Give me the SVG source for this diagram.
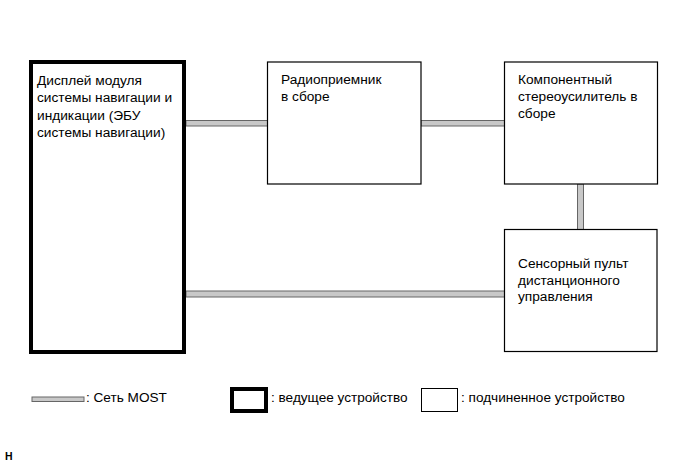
<svg xmlns="http://www.w3.org/2000/svg" width="691" height="465" viewBox="0 0 691 465">
<style>
.t{font-family:"Liberation Sans",Arial,sans-serif;font-size:13.7px;fill:#000}
.lt{font-family:"Liberation Sans",Arial,sans-serif;font-size:13.6px;fill:#000}
.box{fill:#fff;stroke:#000;stroke-width:1.2}
.master{fill:#fff;stroke:#000;stroke-width:4}
.most{fill:#c8c8c8;stroke:#666;stroke-width:1}
</style>
<rect width="691" height="465" fill="#fff"/>
<g id="connectors">
<rect class="most" x="186" y="120.5" width="81.5" height="5.5"/>
<rect class="most" x="421" y="120.5" width="83.5" height="5.5"/>
<rect class="most" x="577.5" y="184" width="6" height="45.5"/>
<rect class="most" x="186" y="291" width="318.5" height="6"/>
</g>
<g id="nav-display">
<rect class="master" x="31" y="62" width="153" height="290"/>
<text class="t" x="37" y="85">Дисплей модуля</text>
<text class="t" x="37" y="102">системы навигации и</text>
<text class="t" x="37" y="119.5">индикации (ЭБУ</text>
<text class="t" x="37" y="137">системы навигации)</text>
</g>
<g id="radio">
<rect class="box" x="267.5" y="62" width="153.5" height="122"/>
<text class="t" x="281" y="83.5">Радиоприемник</text>
<text class="t" x="281" y="100.5">в сборе</text>
</g>
<g id="amplifier">
<rect class="box" x="504.5" y="62" width="153" height="122"/>
<text class="t" x="518" y="83.5">Компонентный</text>
<text class="t" x="518" y="100.5">стереоусилитель в</text>
<text class="t" x="518" y="117.5">сборе</text>
</g>
<g id="touch-remote">
<rect class="box" x="504.5" y="229.5" width="152.5" height="122"/>
<text class="t" x="518" y="268">Сенсорный пульт</text>
<text class="t" x="518" y="284.5">дистанционного</text>
<text class="t" x="518" y="301">управления</text>
</g>
<g id="legend">
<rect class="most" x="32" y="397" width="52" height="4.5"/>
<text class="lt" x="86" y="402">: Сеть MOST</text>
<rect x="232" y="389" width="34" height="22" fill="#fff" stroke="#000" stroke-width="4"/>
<text class="lt" x="271" y="402">: ведущее устройство</text>
<rect x="421.5" y="388.5" width="36" height="23" fill="#fff" stroke="#000" stroke-width="1"/>
<text class="lt" x="461" y="402">: подчиненное устройство</text>
</g>
<text x="5" y="460" font-family="'Liberation Sans',Arial,sans-serif" font-size="10.5" font-weight="bold" fill="#000">H</text>
</svg>
